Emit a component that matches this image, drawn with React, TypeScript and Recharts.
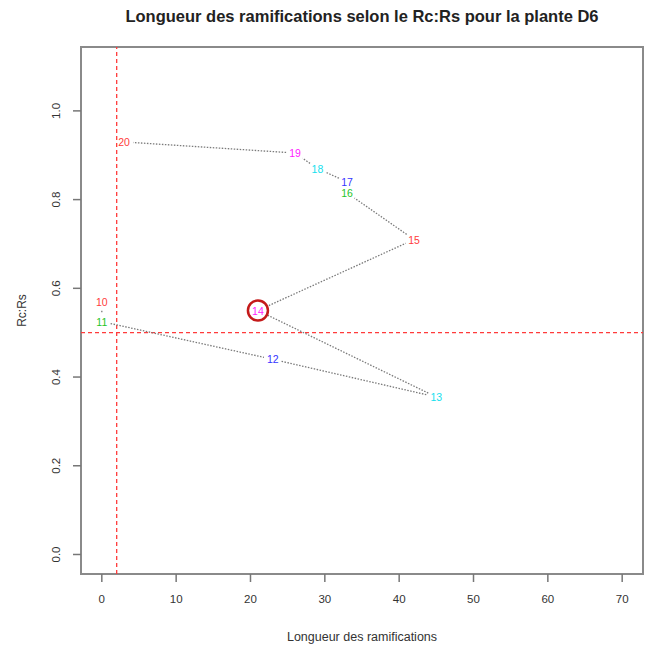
import { ScatterChart, Scatter, XAxis, YAxis, ReferenceLine, ReferenceArea, ReferenceDot, Label } from 'recharts'

// numéros des ramifications et leurs valeurs
const labels = ['10', '11', '12', '13', '14', '15', '16', '17', '18', '19', '20']
const longueurs = [0, 0, 23, 45, 21, 42, 33, 33, 29, 26, 3]
const rcrs = [0.57, 0.525, 0.44, 0.355, 0.55, 0.71, 0.815, 0.84, 0.87, 0.905, 0.93]
const palette = ['#ff3b3b', '#1fc41f', '#3535ff', '#14e0ee', '#ff1cff'] // col = 2:6
const xTicks = [0, 10, 20, 30, 40, 50, 60, 70]
const yTicks = [0, 0.2, 0.4, 0.6, 0.8, 1.0]
const seuilX = 2
const seuilY = 0.5
const pointEntoure = '14'

const data = labels.map((label, i) => ({
  label,
  x: longueurs[i],
  y: rcrs[i],
  color: palette[i % palette.length]
}))

const highlight = data.find(d => d.label === pointEntoure)!

const font = '"Liberation Sans", Arial, sans-serif'

// type="c" de R : segments coupés autour des étiquettes
const GappedLine = (props: any) => {
  const pts: { x: number; y: number }[] = props.points || []
  const gap = 9
  const segs = []
  for (let i = 1; i < pts.length; i++) {
    const a = pts[i - 1]
    const b = pts[i]
    const dx = b.x - a.x
    const dy = b.y - a.y
    const len = Math.sqrt(dx * dx + dy * dy)
    if (len <= 2 * gap) continue
    const ux = dx / len
    const uy = dy / len
    segs.push(
      <line
        key={i}
        x1={a.x + ux * gap}
        y1={a.y + uy * gap}
        x2={b.x - ux * gap}
        y2={b.y - uy * gap}
        stroke="#7a7a7a"
        strokeWidth={1.3}
        strokeDasharray="1.5 1.5"
      />
    )
  }
  return <g>{segs}</g>
}

const PointLabel = (props: any) => {
  const { cx, cy, payload } = props
  return (
    <text x={cx} y={cy} textAnchor="middle" dominantBaseline="central" fill={payload.color} fontSize={10.5} fontFamily={font}>
      {payload.label}
    </text>
  )
}

const XTick = (props: any) => {
  const { x, y, payload } = props
  return (
    <text x={x} y={y + 19} textAnchor="middle" fill="#333" fontSize={11.5} fontFamily={font}>
      {payload.value}
    </text>
  )
}

const YTick = (props: any) => {
  const { y, payload } = props
  return (
    <text x={60} y={y} transform={`rotate(-90, 60, ${y})`} textAnchor="middle" fill="#333" fontSize={11.5} fontFamily={font}>
      {Number(payload.value).toFixed(1)}
    </text>
  )
}

export default function App() {
  return (
    <div style={{ position: 'absolute', left: 0, top: 0, width: 656, height: 653, background: '#fff' }}>
      <div
        style={{
          position: 'absolute',
          left: 81,
          width: 562,
          top: 7,
          textAlign: 'center',
          fontFamily: font,
          fontWeight: 'bold',
          fontSize: 16.5,
          color: '#222'
        }}
      >
        Longueur des ramifications selon le Rc:Rs pour la plante D6
      </div>
      <ScatterChart width={656} height={653} margin={{ top: 47, right: 13, bottom: 0, left: 0 }}>
        <XAxis
          type="number"
          dataKey="x"
          domain={[-2.8, 72.8]}
          ticks={xTicks}
          allowDataOverflow
          height={79}
          axisLine={false}
          tickSize={8}
          tickLine={{ stroke: '#777', strokeWidth: 1.5 }}
          tick={<XTick />}
        >
          <Label value="Longueur des ramifications" position="insideBottom" offset={12} fill="#333" fontSize={12.5} fontFamily={font} />
        </XAxis>
        <YAxis
          type="number"
          dataKey="y"
          domain={[-0.044, 1.144]}
          ticks={yTicks}
          allowDataOverflow
          width={81}
          axisLine={false}
          tickSize={8}
          tickLine={{ stroke: '#777', strokeWidth: 1.5 }}
          tick={<YTick />}
        >
          <Label
            value="Rc:Rs"
            angle={-90}
            position="insideLeft"
            offset={22}
            style={{ textAnchor: 'middle' }}
            fill="#333"
            fontSize={12}
            fontFamily={font}
          />
        </YAxis>
        <ReferenceArea x1={-2.8} x2={72.8} y1={-0.044} y2={1.144} fill="none" stroke="#8a8a8a" strokeWidth={2} ifOverflow="visible" />
        <ReferenceLine x={seuilX} stroke="#ff3b3b" strokeWidth={1.3} strokeDasharray="4 3" />
        <ReferenceLine y={seuilY} stroke="#ff3b3b" strokeWidth={1.3} strokeDasharray="4 3" />
        <Scatter data={data} line={GappedLine} shape={<PointLabel />} isAnimationActive={false} />
        <ReferenceDot x={highlight.x} y={highlight.y} r={10} fill="none" stroke="#c41a1a" strokeWidth={2.5} />
      </ScatterChart>
    </div>
  )
}
